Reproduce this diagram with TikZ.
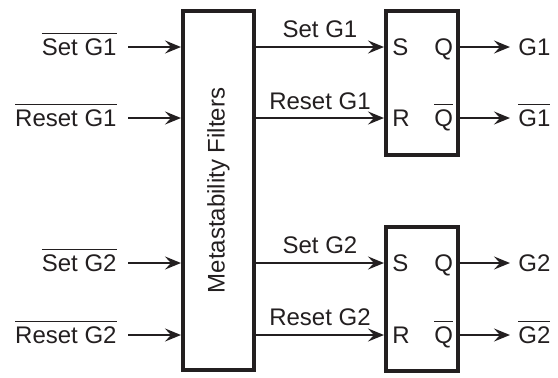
\documentclass[tikz,border=0pt]{standalone}
\usepackage{fontspec}
\setmainfont{Liberation Sans}
\usetikzlibrary{arrows.meta}
\definecolor{ink}{HTML}{231F20}
\newcommand\ovl[1]{\leavevmode\vbox{\hrule height 0.6pt\kern 2.2pt\hbox{#1}}}
\begin{document}
\begin{tikzpicture}[x=0.5pt,y=-0.5pt,
  every node/.style={text=ink,font=\fontsize{12}{14}\selectfont},
  blk/.style={draw=ink,line width=2pt,inner sep=0pt},
  arr/.style={draw=ink,line width=1.15pt,-{Stealth[length=8pt,width=6.5pt,inset=3pt]}},
  lab/.style={inner sep=0pt}]
\useasboundingbox (0,0) rectangle (558,377);
% blocks
\node[blk,minimum width=35.5pt,minimum height=179.5pt] (filt) at (218.5,190.5) {};
\node[rotate=90,lab] (ftxt) at (filt.center) {Metastability Filters};
\node[blk,minimum width=36pt,minimum height=72pt] (ff1) at (422,83) {};
\node[blk,minimum width=36pt,minimum height=72pt] (ff2) at (422,299) {};
% coordinates for rows
\coordinate (r1) at (0,47);
\coordinate (r2) at (0,118);
\coordinate (r3) at (0,263);
\coordinate (r4) at (0,335);
% input labels
\node[lab,anchor=base east] (in1) at (117,55.5) {\ovl{Set G1}};
\node[lab,anchor=base east] (in2) at (117,126.5) {\ovl{Reset G1}};
\node[lab,anchor=base east] (in3) at (117,271.5) {\ovl{Set G2}};
\node[lab,anchor=base east] (in4) at (117,343.5) {\ovl{Reset G2}};
\coordinate (s1) at (128,47);
\coordinate (s2) at (128,118);
\coordinate (s3) at (128,263);
\coordinate (s4) at (128,335);
\draw[arr] (s1) -- (s1 -| filt.west);
\draw[arr] (s2) -- (s2 -| filt.west);
\draw[arr] (s3) -- (s3 -| filt.west);
\draw[arr] (s4) -- (s4 -| filt.west);
% middle connections
\draw[arr] (r1 -| filt.east) -- (r1 -| ff1.west);
\draw[arr] (r2 -| filt.east) -- (r2 -| ff1.west);
\draw[arr] (r3 -| filt.east) -- (r3 -| ff2.west);
\draw[arr] (r4 -| filt.east) -- (r4 -| ff2.west);
\node[lab,anchor=base] (m1) at (320,37.5) {Set G1};
\node[lab,anchor=base] (m2) at (320,109.5) {Reset G1};
\node[lab,anchor=base] (m3) at (320,253.5) {Set G2};
\node[lab,anchor=base] (m4) at (320,325.5) {Reset G2};
% flip-flop pins
\node[lab,anchor=base west] (S1) at (392,55.5) {S};
\node[lab,anchor=base west] (R1) at (392,126.5) {R};
\node[lab,anchor=base west] (Q1) at (434,55.5) {Q};
\node[lab,anchor=base west] (Qb1) at (434,126.5) {\ovl{Q}};
\node[lab,anchor=base west] (S2) at (392,271.5) {S};
\node[lab,anchor=base west] (R2) at (392,343.5) {R};
\node[lab,anchor=base west] (Q2) at (434,271.5) {Q};
\node[lab,anchor=base west] (Qb2) at (434,343.5) {\ovl{Q}};
% outputs
\coordinate (e1) at (510,47);
\coordinate (e2) at (510,118);
\coordinate (e3) at (510,263);
\coordinate (e4) at (510,335);
\draw[arr] (e1 -| ff1.east) -- (e1);
\draw[arr] (e2 -| ff1.east) -- (e2);
\draw[arr] (e3 -| ff2.east) -- (e3);
\draw[arr] (e4 -| ff2.east) -- (e4);
\node[lab,anchor=base west] (o1) at (518,55.5) {G1};
\node[lab,anchor=base west] (o2) at (518,126.5) {\ovl{G1}};
\node[lab,anchor=base west] (o3) at (518,271.5) {G2};
\node[lab,anchor=base west] (o4) at (518,343.5) {\ovl{G2}};
\end{tikzpicture}
\end{document}
